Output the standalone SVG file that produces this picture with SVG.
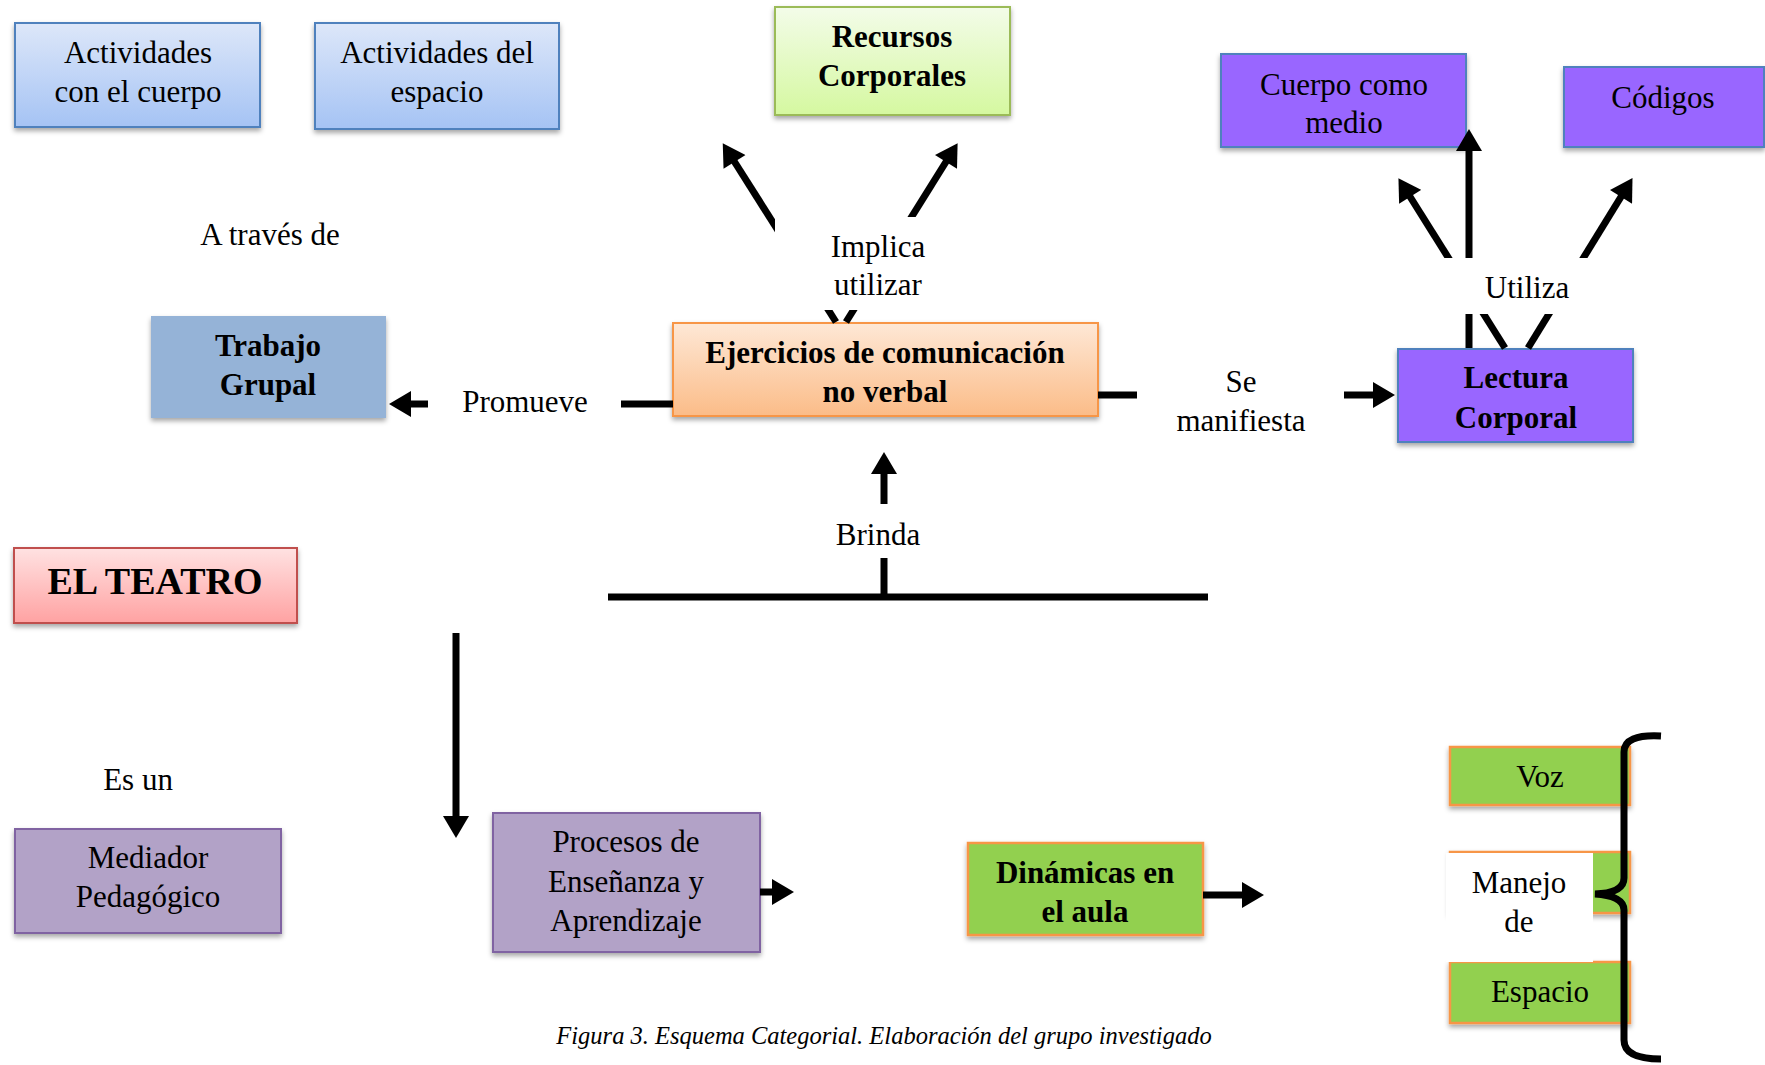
<svg xmlns="http://www.w3.org/2000/svg" width="1765" height="1065" viewBox="0 0 1765 1065">
<style>
text{font-family:"Liberation Serif","Times New Roman",serif;fill:#000;font-size:31px;text-anchor:middle}
.b{font-weight:bold}
.conn{stroke:#000;stroke-width:7;fill:none}
.arr{marker-end:url(#ah)}
.lbg{fill:#fff}
.purple{fill:#9966ff;stroke:#4f81bd;stroke-width:2}
.lilac{fill:#b2a2c7;stroke:#8064a2;stroke-width:2}
.lime{fill:#92d050;stroke:#f79646;stroke-width:2.5}
</style>
<defs>
<linearGradient id="gBlue" x1="0" y1="0" x2="0" y2="1"><stop offset="0" stop-color="#dde7f9"/><stop offset="1" stop-color="#a5c3f4"/></linearGradient>
<linearGradient id="gGreen" x1="0" y1="0" x2="0" y2="1"><stop offset="0" stop-color="#f3fce9"/><stop offset="1" stop-color="#d5f8a0"/></linearGradient>
<linearGradient id="gOrange" x1="0" y1="0" x2="0" y2="1"><stop offset="0" stop-color="#fee8d6"/><stop offset="1" stop-color="#fbbc88"/></linearGradient>
<linearGradient id="gRed" x1="0" y1="0" x2="0" y2="1"><stop offset="0" stop-color="#ffe2e2"/><stop offset="1" stop-color="#ffa2a2"/></linearGradient>
<filter id="sh" x="-10%" y="-10%" width="120%" height="130%"><feDropShadow dx="0" dy="3" stdDeviation="2.5" flood-color="#000" flood-opacity="0.35"/></filter>
<marker id="ah" markerUnits="userSpaceOnUse" markerWidth="24" markerHeight="26" viewBox="0 0 22 26" refX="1" refY="13" orient="auto"><path d="M0,0 L22,13 L0,26 Z" fill="#000"/></marker>
</defs>

<g id="nodes">
<g id="n-act-cuerpo" filter="url(#sh)"><rect x="15" y="23" width="245" height="104" fill="url(#gBlue)" stroke="#4f81bd" stroke-width="2"/></g>
<g id="n-act-espacio" filter="url(#sh)"><rect x="315" y="23" width="244" height="106" fill="url(#gBlue)" stroke="#4f81bd" stroke-width="2"/></g>
<g id="n-recursos" filter="url(#sh)"><rect x="775" y="7" width="235" height="108" fill="url(#gGreen)" stroke="#9bbb59" stroke-width="2"/></g>
<g id="n-cuerpo-medio" filter="url(#sh)"><rect class="purple" x="1221" y="54" width="245" height="93"/></g>
<g id="n-codigos" filter="url(#sh)"><rect class="purple" x="1564" y="67" width="200" height="80"/></g>
<g id="n-trabajo" filter="url(#sh)"><rect x="151" y="316" width="235" height="102" fill="#95b3d7"/></g>
<g id="n-ejercicios" filter="url(#sh)"><rect x="673" y="323" width="425" height="93" fill="url(#gOrange)" stroke="#f79646" stroke-width="2"/></g>
<g id="n-lectura" filter="url(#sh)"><rect class="purple" x="1398" y="349" width="235" height="93"/></g>
<g id="n-teatro" filter="url(#sh)"><rect x="14" y="548" width="283" height="75" fill="url(#gRed)" stroke="#c0504d" stroke-width="2"/></g>
<g id="n-mediador" filter="url(#sh)"><rect class="lilac" x="15" y="829" width="266" height="104"/></g>
<g id="n-procesos" filter="url(#sh)"><rect class="lilac" x="493" y="813" width="267" height="139"/></g>
<g id="n-dinamicas" filter="url(#sh)"><rect class="lime" x="968" y="843" width="235" height="92"/></g>
<g id="n-voz" filter="url(#sh)"><rect class="lime" x="1450" y="747" width="180" height="58"/></g>
<g id="n-manejo" filter="url(#sh)"><rect class="lime" x="1450" y="852" width="180" height="61"/></g>
<g id="n-espacio" filter="url(#sh)"><rect class="lime" x="1450" y="962" width="180" height="61"/></g>
</g>

<g id="connectors">
<path class="conn arr" d="M836,322 L734,161"/>
<path class="conn arr" d="M846,322 L946.5,161"/>
<path class="conn arr" d="M1469,348 L1469,150"/>
<path class="conn arr" d="M1505,348 L1409.6,196"/>
<path class="conn arr" d="M1528,348 L1621.5,196"/>
<path class="conn arr" d="M673,404 L410,404"/>
<path class="conn arr" d="M1098,395 L1374,395"/>
<path class="conn" d="M608,597 L1208,597"/>
<path class="conn arr" d="M884,597 L884,473"/>
<path class="conn arr" d="M456,633 L456,817"/>
<path class="conn arr" d="M760,892 L773,892"/>
<path class="conn arr" d="M1203,895 L1243,895"/>
<path class="conn" d="M1661,736 Q1624,734 1624,752 L1624,878 Q1624,893 1595,894 Q1624,896 1624,910 L1624,1040 Q1624,1059 1661,1059"/>
</g>

<g id="labels">
<rect class="lbg" x="775" y="217" width="210" height="93"/>
<text x="878" y="257">Implica</text>
<text x="878" y="295">utilizar</text>
<rect class="lbg" x="1430" y="258" width="170" height="56"/>
<text x="1527" y="298">Utiliza</text>
<rect class="lbg" x="428" y="380" width="193" height="50"/>
<text x="525" y="412">Promueve</text>
<rect class="lbg" x="1137" y="360" width="207" height="80"/>
<text x="1241" y="392">Se</text>
<text x="1241" y="431">manifiesta</text>
<rect class="lbg" x="820" y="504" width="115" height="54"/>
<text x="878" y="545">Brinda</text>
<rect class="lbg" x="1446" y="853" width="147" height="109"/>
<text x="1519" y="893">Manejo</text>
<text x="1519" y="932">de</text>
<text x="270" y="245">A través de</text>
<text x="138" y="790">Es un</text>
</g>

<g id="node-texts">
<text x="138" y="63">Actividades</text>
<text x="138" y="102">con el cuerpo</text>
<text x="437" y="63">Actividades del</text>
<text x="437" y="102">espacio</text>
<text class="b" x="892" y="47">Recursos</text>
<text class="b" x="892" y="86">Corporales</text>
<text x="1344" y="95">Cuerpo como</text>
<text x="1344" y="133">medio</text>
<text x="1663" y="108">Códigos</text>
<text class="b" x="268" y="356">Trabajo</text>
<text class="b" x="268" y="395">Grupal</text>
<text class="b" x="885" y="363">Ejercicios de comunicación</text>
<text class="b" x="885" y="402">no verbal</text>
<text class="b" x="1516" y="388">Lectura</text>
<text class="b" x="1516" y="428">Corporal</text>
<text class="b" x="155" y="594" style="font-size:38px">EL TEATRO</text>
<text x="148" y="868">Mediador</text>
<text x="148" y="907">Pedagógico</text>
<text x="626" y="852">Procesos de</text>
<text x="626" y="892">Enseñanza y</text>
<text x="626" y="931">Aprendizaje</text>
<text class="b" x="1085" y="883">Dinámicas en</text>
<text class="b" x="1085" y="922">el aula</text>
<text x="1540" y="787">Voz</text>
<text x="1540" y="1002">Espacio</text>
<text x="884" y="1044" style="font-size:24.5px;font-style:italic">Figura 3. Esquema Categorial. Elaboración del grupo investigado</text>
</g>
</svg>
